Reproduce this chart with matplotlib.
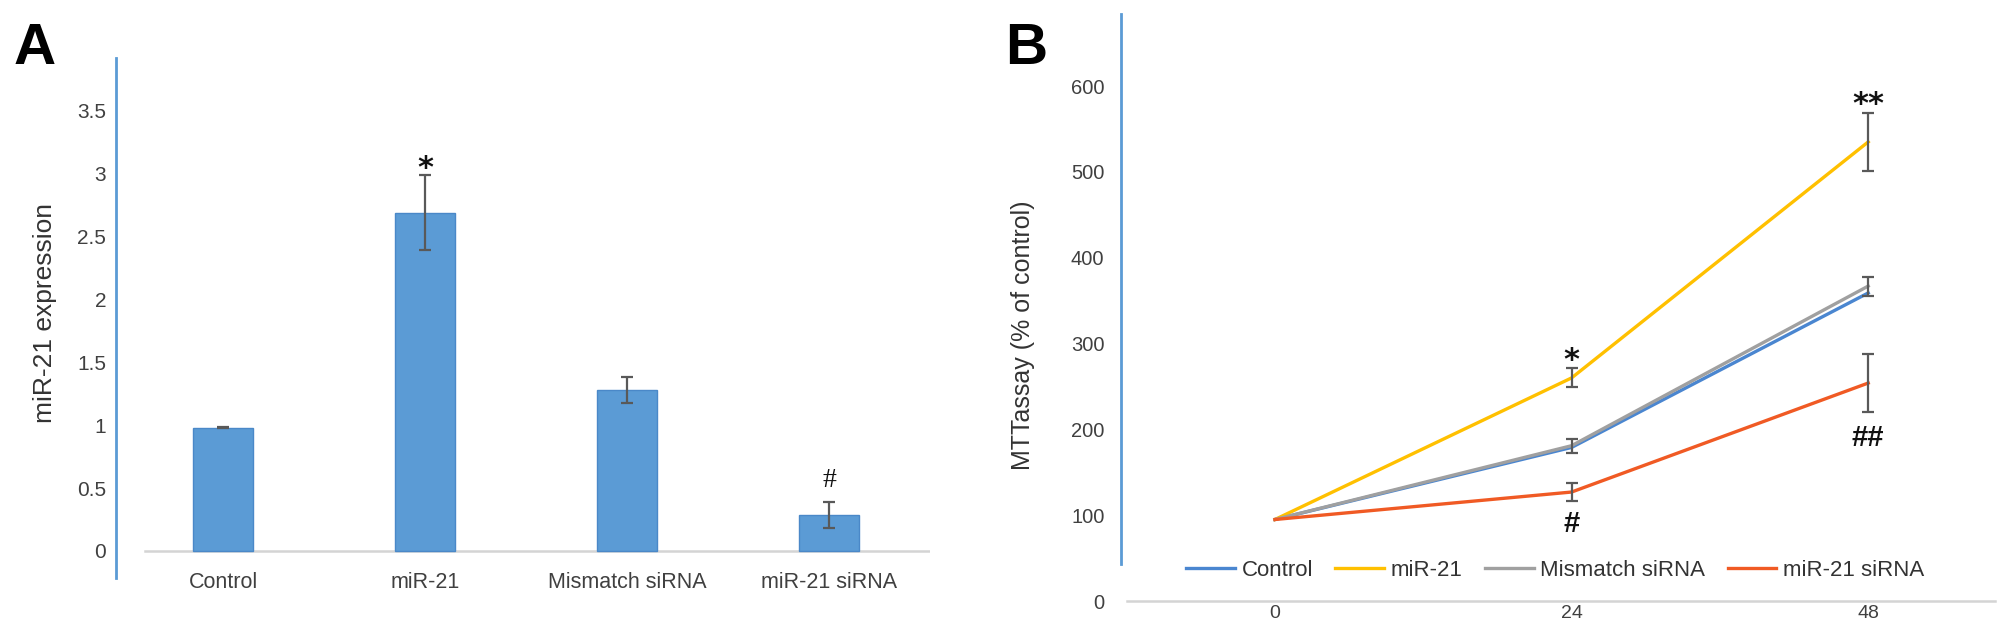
import matplotlib
matplotlib.use("Agg")
import matplotlib.pyplot as plt
from matplotlib.textpath import TextPath
from matplotlib.font_manager import FontProperties
import numpy as np

plt.rcParams['font.family'] = ['Liberation Sans', 'DejaVu Sans']

# ---------------- data ----------------
groups_a = ["Control", "miR-21", "Mismatch siRNA", "miR-21 siRNA"]
expr_a = [0.98, 2.69, 1.28, 0.285]
err_a = [0.005, 0.30, 0.10, 0.105]
yticks_a = [0, 0.5, 1, 1.5, 2, 2.5, 3, 3.5]
ytick_labels_a = ["0", "0.5", "1", "1.5", "2", "2.5", "3", "3.5"]
marks_a = {"miR-21": "*", "miR-21 siRNA": "#"}

times_b = ["0", "24", "48"]
series_b = ["Control", "miR-21", "Mismatch siRNA", "miR-21 siRNA"]
control_b = [95, 179, 359]
mir21_b = [95, 260, 535]
mismatch_b = [95, 181, 367]
sirna_b = [95, 127, 254]
mir21_err_b = [0, 11, 34]
mismatch_err_b = [0, 8, 11]
sirna_err_b = [0, 11, 34]
yticks_b = [0, 100, 200, 300, 400, 500, 600]

colors_b = ["#4A86D0", "#FFC000", "#A0A0A0", "#F05A24"]
bar_color = "#5B9BD5"
axis_blue = "#5B9BD5"
err_color = "#595959"

fig = plt.figure(figsize=(20.08, 6.3), dpi=100)


def mark(ax, x, y, s, fs, prop_kw, gap_pt, above=True):
    """Place a significance mark with its glyph edge gap_pt points from (x, y)."""
    fp = FontProperties(size=fs, **prop_kw)
    ext = TextPath((0, 0), s, size=fs, prop=fp).get_extents()
    if above:
        dy = gap_pt - ext.y0
    else:
        dy = -(gap_pt + ext.y1)
    ax.annotate(s, (x, y), xytext=(0, dy), textcoords="offset points",
                ha="center", va="baseline", fontproperties=fp, color="#111111",
                annotation_clip=False)


# ---------------- Panel A ----------------
axA = fig.add_axes([0.0578, 0.0825, 0.4054, 0.8254])
x = np.arange(len(groups_a))
axA.bar(x, expr_a, width=0.30, color=bar_color, edgecolor="#4A88C8", linewidth=1, zorder=2)
axA.errorbar(x, expr_a, yerr=err_a, fmt="none", ecolor=err_color, elinewidth=1.6,
             capsize=4.5, capthick=1.6, zorder=3)
axA.set_xlim(-0.53, 3.5)
axA.set_ylim(-0.215, 3.92)
axA.axhline(0, xmin=0.035, xmax=1.0, color="#D4D4D4", lw=1.8, zorder=1)
for s in ["top", "right", "bottom"]:
    axA.spines[s].set_visible(False)
axA.spines["left"].set_color(axis_blue)
axA.spines["left"].set_linewidth(2)
axA.set_yticks(yticks_a)
axA.set_yticklabels(ytick_labels_a)
axA.set_xticks(x)
axA.set_xticklabels(groups_a)
axA.tick_params(axis="y", length=0, pad=7, labelsize=15, labelcolor="#404040")
axA.tick_params(axis="x", length=0, pad=-4, labelsize=15.5, labelcolor="#404040")
axA.set_ylabel("miR-21 expression", fontsize=19, color="#333333")
axA.yaxis.set_label_coords(-0.072, 0.51)
for i, g in enumerate(groups_a):
    if g in marks_a:
        m = marks_a[g]
        top = expr_a[i] + err_a[i]
        if m == "*":
            mark(axA, i, top, m, 22, dict(family="DejaVu Sans", weight="bold"), 5)
        else:
            mark(axA, i, top, m, 20, dict(family="Liberation Serif"), 11)

fig.text(0.017, 0.922, "A", fontsize=42, fontweight="bold", ha="center", va="center")

# ---------------- Panel B ----------------
axB = fig.add_axes([0.5583, 0.046, 0.4353, 0.9317])
xb = np.arange(len(times_b))
all_vals = [control_b, mir21_b, mismatch_b, sirna_b]
for vals, c, name in zip(all_vals, colors_b, series_b):
    axB.plot(xb, vals, color=c, lw=2.4, label=name, zorder=3)
for vals, errs in [(mir21_b, mir21_err_b), (mismatch_b, mismatch_err_b), (sirna_b, sirna_err_b)]:
    axB.errorbar(xb[1:], vals[1:], yerr=errs[1:], fmt="none", ecolor=err_color,
                 elinewidth=1.6, capsize=4.5, capthick=1.6, zorder=4)
axB.set_xlim(-0.519, 2.428)
axB.set_ylim(0, 684)
axB.axhline(0, xmin=0.007, xmax=1.0, color="#D4D4D4", lw=1.8, zorder=1, clip_on=False)
for s in ["top", "right", "bottom"]:
    axB.spines[s].set_visible(False)
axB.spines["left"].set_color(axis_blue)
axB.spines["left"].set_linewidth(2)
axB.spines["left"].set_bounds(43, 684)
axB.set_yticks(yticks_b)
axB.set_xticks(xb)
axB.set_xticklabels(times_b)
axB.tick_params(axis="y", length=0, pad=12, labelsize=14.5, labelcolor="#404040")
axB.tick_params(axis="x", length=0, pad=3, labelsize=14, labelcolor="#404040")
axB.set_ylabel("MTTassay (% of control)", fontsize=18, color="#333333")
axB.yaxis.set_label_coords(-0.098, 0.452)

# significance marks
star_kw = dict(family="DejaVu Sans", weight="bold")
hash_kw = dict(family="Liberation Sans", weight="bold")
mark(axB, 1, mir21_b[1] + mir21_err_b[1], "*", 22, star_kw, 5.4)
mark(axB, 2, mir21_b[2] + mir21_err_b[2], "**", 22, star_kw, 5.8)
mark(axB, 1, sirna_b[1] - sirna_err_b[1], "#", 21, hash_kw, 7.5, above=False)
mark(axB, 2, sirna_b[2] - sirna_err_b[2], "##", 21, hash_kw, 10, above=False)

leg = axB.legend(loc="center", bbox_to_anchor=(0.4966, 0.0528), ncol=4, frameon=False,
                 fontsize=16, handlelength=2.2, handletextpad=0.3, columnspacing=1.0,
                 labelcolor="#333333")
for h in leg.get_lines():
    h.set_linewidth(2.4)

fig.text(0.511, 0.922, "B", fontsize=42, fontweight="bold", ha="center", va="center")

fig.savefig("out.png", dpi=100, facecolor="white")
